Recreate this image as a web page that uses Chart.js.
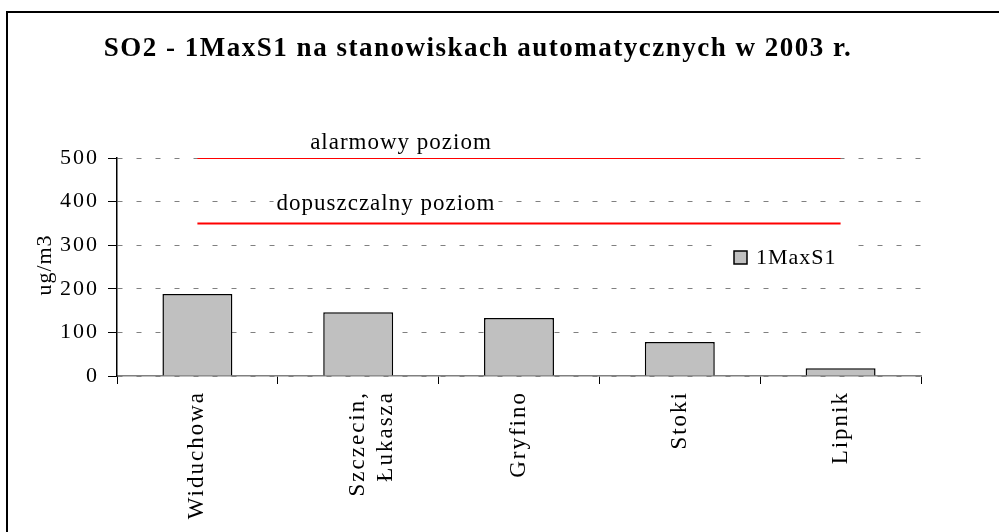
<!DOCTYPE html>
<html lang="pl">
<head>
  <meta charset="UTF-8">
  <title>SO2 - 1MaxS1</title>
  <script src="https://cdn.jsdelivr.net/npm/chart.js@4.4.0/dist/chart.umd.min.js"></script>
  <style>
    html, body { margin: 0; padding: 0; background: #fff; }
    #wrap { width: 999px; height: 532px; }
  </style>
</head>
<body>
  <div id="wrap"><canvas id="myChart" width="999" height="532"></canvas></div>
  <script>
    // data
    const stations = ['Widuchowa', ['Szczecin,', 'Łukasza'], 'Gryfino', 'Stoki', 'Lipnik'];
    const maxS1 = [188, 146, 133, 78, 18];
    const alarmLevel = [500, 500, 500, 500, 500];
    const allowedLevel = [350, 350, 350, 350, 350];
    const yTicks = [0, 100, 200, 300, 400, 500];

    const serif = '"Liberation Serif", "Times New Roman", serif';

    // frame, title, axis title, level labels, legend
    const decor = {
      id: 'decor',
      beforeDraw(chart) {
        const ctx = chart.ctx;
        ctx.save();
        ctx.fillStyle = '#fff';
        ctx.fillRect(0, 0, chart.width, chart.height);
        ctx.restore();
        ctx.letterSpacing = '2px';
      },
      afterDraw(chart) {
        const ctx = chart.ctx;
        ctx.save();
        // frame
        ctx.strokeStyle = '#000';
        ctx.lineWidth = 2;
        ctx.strokeRect(7, 12, 1000, 540);

        // title
        ctx.fillStyle = '#000';
        ctx.textBaseline = 'middle';
        ctx.textAlign = 'center';
        ctx.letterSpacing = '1.5px';
        ctx.font = 'bold 27px ' + serif;
        ctx.fillText('SO2 - 1MaxS1 na stanowiskach automatycznych w 2003 r.', 478, 49);

        // y axis title
        ctx.letterSpacing = '1px';
        ctx.font = '22px ' + serif;
        ctx.save();
        ctx.translate(45, 265);
        ctx.rotate(-Math.PI / 2);
        ctx.fillText('ug/m3', 0, 0);
        ctx.restore();

        // level labels with white background
        ctx.font = '23px ' + serif;
        const labels = [['alarmowy poziom', 401, 143], ['dopuszczalny poziom', 386, 204]];
        labels.forEach(([t, x, y]) => {
          const w = ctx.measureText(t).width;
          ctx.fillStyle = '#fff';
          ctx.fillRect(x - w / 2 - 3, y - 12, w + 6, 24);
          ctx.fillStyle = '#000';
          ctx.fillText(t, x, y);
        });

        // legend
        ctx.font = '22px ' + serif;
        ctx.fillStyle = '#fff';
        ctx.fillRect(712, 240, 146, 36);
        ctx.fillStyle = '#C0C0C0';
        ctx.fillRect(734, 251, 13, 13);
        ctx.strokeStyle = '#000';
        ctx.lineWidth = 1.5;
        ctx.strokeRect(734, 251, 13, 13);
        ctx.fillStyle = '#000';
        ctx.textAlign = 'left';
        ctx.fillText('1MaxS1', 756, 258);
        ctx.restore();
      }
    };

    const data = {
      labels: stations,
      datasets: [
        {
          type: 'line',
          label: 'alarmowy poziom',
          data: alarmLevel,
          borderColor: '#FF0000',
          borderWidth: 2,
          pointRadius: 0,
          order: 1
        },
        {
          type: 'line',
          label: 'dopuszczalny poziom',
          data: allowedLevel,
          borderColor: '#FF0000',
          borderWidth: 2,
          pointRadius: 0,
          order: 1
        },
        {
          type: 'bar',
          label: '1MaxS1',
          data: maxS1,
          backgroundColor: '#C0C0C0',
          borderColor: '#000',
          borderWidth: 1.5,
          barPercentage: 0.435,
          categoryPercentage: 1,
          order: 2
        }
      ]
    };

    const config = {
      type: 'bar',
      data,
      options: {
        responsive: false,
        animation: false,
        layout: { padding: { top: 158, right: 78, left: 0, bottom: 0 } },
        plugins: {
          legend: { display: false },
          title: { display: false },
          tooltip: { enabled: false }
        },
        scales: {
          x: {
            afterFit: s => { s.height = 156; },
            ticks: {
              color: '#000',
              font: { family: serif, size: 23 },
              minRotation: 90,
              maxRotation: 90,
              autoSkip: false,
              padding: 7
            },
            grid: {
              offset: true,
              drawOnChartArea: false,
              tickLength: 8,
              tickColor: '#000'
            },
            border: { color: '#808080', width: 1.5 }
          },
          y: {
            min: 0,
            max: 500,
            afterFit: s => { s.width = 117; },
            afterBuildTicks: s => { s.ticks = yTicks.map(v => ({ value: v })); },
            ticks: {
              color: '#000',
              font: { family: serif, size: 22 },
              padding: 9
            },
            grid: {
              color: '#808080',
              lineWidth: 1,
              tickLength: 9,
              tickColor: '#000',
              tickBorderDash: []
            },
            border: { color: '#000', width: 1.5, dash: [5, 14] }
          }
        }
      },
      plugins: [decor]
    };

    var myChart = new Chart(document.getElementById('myChart'), config);
  </script>
</body>
</html>
